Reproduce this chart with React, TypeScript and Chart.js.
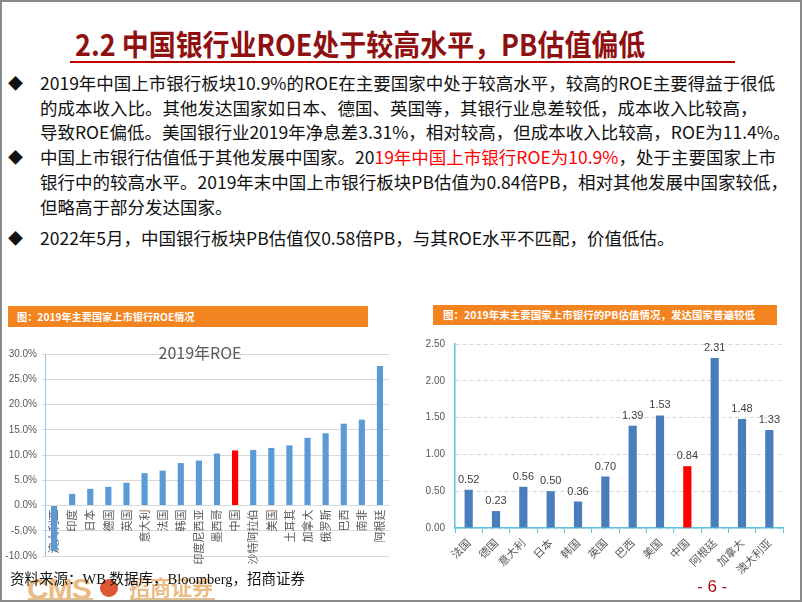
import React, { useEffect, useRef } from "react";
import { Chart, registerables } from "chart.js";

Chart.register(...registerables);

const CJK = '"Noto Sans CJK SC", "Noto Sans", sans-serif';

// ---- Left chart data: 2019 ROE (%)
const roeCountries = ["澳大利亚", "印度", "日本", "德国", "英国", "意大利", "法国", "韩国", "印度尼西亚", "墨西哥", "中国", "沙特阿拉伯", "美国", "土耳其", "加拿大", "俄罗斯", "巴西", "南非", "阿根廷"];
const roeValues = [-9.0, 2.3, 3.3, 3.7, 4.5, 6.4, 6.9, 8.4, 8.9, 10.3, 10.9, 11.0, 11.4, 11.9, 13.4, 14.3, 16.2, 17.0, 27.6];
const roeTicks = [-10, -5, 0, 5, 10, 15, 20, 25, 30];
const roeTitle = "2019年ROE";

// ---- Right chart data: PB at end of 2019
const pbCountries = ["法国", "德国", "意大利", "日本", "韩国", "英国", "巴西", "美国", "中国", "阿根廷", "加拿大", "澳大利亚"];
const pbValues = [0.52, 0.23, 0.56, 0.5, 0.36, 0.7, 1.39, 1.53, 0.84, 2.31, 1.48, 1.33];
const pbTicks = [0, 0.5, 1.0, 1.5, 2.0, 2.5];

const highlight = "中国";

const roeTitlePlugin = {
  id: "roeTitle",
  afterDraw(chart: any) {
    const ctx = chart.ctx;
    ctx.save();
    ctx.font = `16px ${CJK}`;
    ctx.fillStyle = "#595959";
    ctx.textAlign = "center";
    ctx.textBaseline = "middle";
    ctx.fillText(roeTitle, 200, 13);
    ctx.restore();
  },
};

const valueLabelPlugin = {
  id: "valueLabels",
  afterDatasetsDraw(chart: any) {
    const ctx = chart.ctx;
    const meta = chart.getDatasetMeta(0);
    const data = chart.data.datasets[0].data as number[];
    ctx.save();
    ctx.font = `11px "Liberation Sans", sans-serif`;
    ctx.fillStyle = "#404040";
    ctx.textAlign = "center";
    ctx.textBaseline = "middle";
    meta.data.forEach((bar: any, i: number) => {
      ctx.fillText(data[i].toFixed(2), bar.x, bar.y - 10);
    });
    ctx.restore();
  },
};

function RoeChart() {
  const ref = useRef<HTMLCanvasElement>(null);
  useEffect(() => {
    const chart = new Chart(ref.current!, {
      type: "bar",
      data: {
        labels: roeCountries,
        datasets: [
          {
            data: roeValues,
            backgroundColor: roeCountries.map((c) => (c === highlight ? "#ff0000" : "#5b9bd5")),
            categoryPercentage: 1,
            barPercentage: 0.34,
          },
        ],
      },
      options: {
        animation: false,
        responsive: false,
        layout: { padding: { top: 14, bottom: 16, left: 0, right: 11 } },
        plugins: { legend: { display: false }, tooltip: { enabled: false } },
        scales: {
          x: {
            position: { y: 0 } as any,
            z: 1,
            grid: { display: false, drawTicks: false },
            border: { display: false },
            ticks: {
              autoSkip: false,
              minRotation: 90,
              maxRotation: 90,
              padding: 4,
              color: "#595959",
              font: { size: 11, family: CJK },
            },
            afterFit: (s: any) => {
              s.height = 0;
            },
          },
          y: {
            min: roeTicks[0],
            max: roeTicks[roeTicks.length - 1],
            afterBuildTicks: (s: any) => {
              s.ticks = roeTicks.map((v) => ({ value: v }));
            },
            grid: { color: "#d9d9d9", tickLength: 3 },
            border: { color: "#9dc3e6" },
            ticks: {
              padding: 5,
              color: "#595959",
              font: { size: 10, family: '"Liberation Sans", sans-serif' },
              callback: (v: any) => Number(v).toFixed(1) + "%",
            },
            afterFit: (s: any) => {
              s.width = 45;
            },
          },
        },
      },
      plugins: [roeTitlePlugin],
    });
    return () => chart.destroy();
  }, []);
  return (
    <canvas
      ref={ref}
      width={400}
      height={232}
      style={{ position: "absolute", left: 0, top: 340, width: 400, height: 232 }}
    />
  );
}

function PbChart() {
  const ref = useRef<HTMLCanvasElement>(null);
  useEffect(() => {
    const chart = new Chart(ref.current!, {
      type: "bar",
      data: {
        labels: pbCountries,
        datasets: [
          {
            data: pbValues,
            backgroundColor: pbCountries.map((c) => (c === highlight ? "#ff0000" : "#4a7ebb")),
            categoryPercentage: 1,
            barPercentage: 0.3,
          },
        ],
      },
      options: {
        animation: false,
        responsive: false,
        layout: { padding: { top: 13, bottom: 0, left: 0, right: 12 } },
        plugins: { legend: { display: false }, tooltip: { enabled: false } },
        scales: {
          x: {
            grid: {
              display: true,
              drawOnChartArea: false,
              drawTicks: true,
              tickLength: 5,
              color: "#5bc3e3",
              offset: true,
            },
            border: { color: "#5bc3e3", width: 1.5 },
            ticks: {
              autoSkip: false,
              minRotation: 45,
              maxRotation: 45,
              padding: 3,
              color: "#595959",
              font: { size: 11, family: CJK },
            },
            afterFit: (s: any) => {
              s.height = 50;
            },
          },
          y: {
            min: pbTicks[0],
            max: pbTicks[pbTicks.length - 1],
            afterBuildTicks: (s: any) => {
              s.ticks = pbTicks.map((v) => ({ value: v }));
            },
            grid: { color: "#d9d9d9", drawTicks: false },
            border: { color: "#5bc3e3", width: 1.5, dash: [4, 3] },
            ticks: {
              padding: 10,
              color: "#595959",
              font: { size: 10, family: '"Liberation Sans", sans-serif' },
              callback: (v: any) => Number(v).toFixed(2),
            },
            afterFit: (s: any) => {
              s.width = 55;
            },
          },
        },
      },
      plugins: [valueLabelPlugin],
    });
    return () => chart.destroy();
  }, []);
  return (
    <canvas
      ref={ref}
      width={395}
      height={250}
      style={{ position: "absolute", left: 400, top: 328, width: 395, height: 250 }}
    />
  );
}

const lineStyle = (top: number): React.CSSProperties => ({
  position: "absolute",
  left: 40,
  top: top - 12.5,
  height: 25,
  lineHeight: "25px",
  fontSize: 17.5,
  whiteSpace: "nowrap",
  color: "#111",
});

const bulletStyle = (top: number): React.CSSProperties => ({
  position: "absolute",
  left: 8,
  top: top - 12.5,
  height: 25,
  lineHeight: "25px",
  fontSize: 15,
  color: "#111",
});

export default function App() {
  return (
    <div
      style={{
        position: "fixed",
        left: 0,
        top: 0,
        width: 802,
        height: 602,
        overflow: "hidden",
        background: "#fff",
        fontFamily: CJK,
      }}
    >
      {/* Title */}
      <div
        style={{
          position: "absolute",
          left: 75,
          top: 23,
          fontSize: 29,
          lineHeight: "40px",
          fontWeight: 700,
          color: "#8f1010",
          whiteSpace: "nowrap",
          transform: "scaleX(0.93)",
          transformOrigin: "left center",
        }}
      >
        2.2 中国银行业ROE处于较高水平，PB估值偏低
      </div>
      <div style={{ position: "absolute", left: 70, top: 61, width: 665, height: 2, background: "#c00000" }} />

      {/* Bullets */}
      <div style={bulletStyle(82)}>◆</div>
      <div style={lineStyle(82)}>2019年中国上市银行板块10.9%的ROE在主要国家中处于较高水平，较高的ROE主要得益于很低</div>
      <div style={lineStyle(107)}>的成本收入比。其他发达国家如日本、德国、英国等，其银行业息差较低，成本收入比较高，</div>
      <div style={lineStyle(131)}>导致ROE偏低。美国银行业2019年净息差3.31%，相对较高，但成本收入比较高，ROE为11.4%。</div>
      <div style={bulletStyle(156)}>◆</div>
      <div style={lineStyle(156)}>
        中国上市银行估值低于其他发展中国家。20<span style={{ color: "#ff0000" }}>19年中国上市银行ROE为10.9%</span>，处于主要国家上市
      </div>
      <div style={lineStyle(181)}>银行中的较高水平。2019年末中国上市银行板块PB估值为0.84倍PB，相对其他发展中国家较低，</div>
      <div style={lineStyle(206)}>但略高于部分发达国家。</div>
      <div style={bulletStyle(237)}>◆</div>
      <div style={lineStyle(237)}>2022年5月，中国银行板块PB估值仅0.58倍PB，与其ROE水平不匹配，价值低估。</div>

      {/* Chart headers */}
      <div
        style={{
          position: "absolute",
          left: 8,
          top: 306,
          width: 360,
          height: 21,
          background: "#f4841f",
          color: "#fff",
          fontSize: 10.2,
          fontWeight: 700,
          lineHeight: "21px",
          paddingLeft: 9,
          boxSizing: "border-box",
          whiteSpace: "nowrap",
        }}
      >
        图：2019年主要国家上市银行ROE情况
      </div>
      <div
        style={{
          position: "absolute",
          left: 433,
          top: 305,
          width: 344,
          height: 20,
          background: "#f4841f",
          color: "#fff",
          fontSize: 10.5,
          fontWeight: 700,
          lineHeight: "20px",
          paddingLeft: 10,
          boxSizing: "border-box",
          whiteSpace: "nowrap",
        }}
      >
        图：2019年末主要国家上市银行的PB估值情况，发达国家普遍较低
      </div>

      <RoeChart />
      <PbChart />

      {/* Logo watermark */}
      <div
        style={{
          position: "absolute",
          left: 27,
          top: 574,
          fontFamily: '"Liberation Sans", sans-serif',
          fontWeight: 700,
          fontSize: 30,
          lineHeight: "30px",
          color: "#e8b070",
          opacity: 0.85,
          letterSpacing: -1,
        }}
      >
        CMS
      </div>
      <div
        style={{
          position: "absolute",
          left: 100,
          top: 579,
          width: 18,
          height: 18,
          borderRadius: 9,
          background: "#d8461c",
          opacity: 0.9,
        }}
      />
      <div
        style={{
          position: "absolute",
          left: 129,
          top: 572,
          fontWeight: 700,
          fontSize: 21,
          lineHeight: "28px",
          color: "#e8b070",
          opacity: 0.85,
        }}
      >
        招商证券
      </div>
      <div style={{ position: "absolute", left: 28, top: 598, width: 65, height: 2, background: "#e0c090" }} />
      <div style={{ position: "absolute", left: 130, top: 598, width: 85, height: 2, background: "#e0c090" }} />

      {/* Source */}
      <div
        style={{
          position: "absolute",
          left: 10,
          top: 569,
          fontSize: 14.5,
          lineHeight: "20px",
          fontFamily: `"Liberation Serif", ${CJK}`,
          color: "#111",
          whiteSpace: "nowrap",
        }}
      >
        资料来源：WB 数据库，Bloomberg，招商证券
      </div>

      {/* Page number */}
      <div
        style={{
          position: "absolute",
          left: 697,
          top: 577,
          fontSize: 17,
          lineHeight: "20px",
          fontFamily: '"Liberation Sans", sans-serif',
          color: "#a81010",
          whiteSpace: "nowrap",
        }}
      >
        - 6 -
      </div>

      {/* Frame */}
      <div
        style={{
          position: "absolute",
          left: 0,
          top: 0,
          width: 802,
          height: 602,
          border: "2px solid #8a8a8a",
          boxSizing: "border-box",
          pointerEvents: "none",
        }}
      />
    </div>
  );
}
